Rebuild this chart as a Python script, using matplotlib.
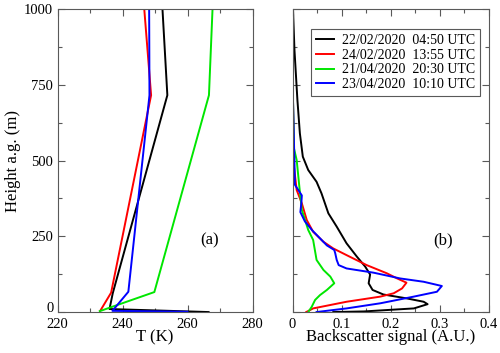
import matplotlib
matplotlib.use("Agg")
import matplotlib.pyplot as plt
from matplotlib.ticker import MultipleLocator

plt.rcParams['font.family'] = ['Liberation Serif', 'DejaVu Serif']

labels = ['22/02/2020  04:50 UTC', '24/02/2020  13:55 UTC',
          '21/04/2020  20:30 UTC', '23/04/2020  10:10 UTC']
colors = ['#000000', '#ff0000', '#00e600', '#0000ff']
height_ticks = [0, 250, 500, 750, 1000]

# (a) temperature profiles: height (m), T (K)
h_t_black = [0, 10, 62, 716, 1000]
t_black = [266.5, 236.0, 237.0, 253.8, 252.3]
h_t_red = [5, 64, 716, 1000]
t_red = [233.2, 236.5, 248.8, 246.7]
h_t_green = [3, 66, 716, 1000]
t_green = [233.0, 249.8, 266.6, 267.7]
h_t_blue = [1, 4, 67, 716, 1000]
t_blue = [260.0, 236.9, 241.8, 248.3, 248.2]

# (b) backscatter profiles: height (m), signal (A.U.)
h_b_black = [0, 2, 12, 26, 34, 45, 58, 73, 95, 124, 150, 183, 227, 282, 326,
             392, 430, 469, 513, 590, 700, 865, 1000]
b_black = [0.083, 0.145, 0.247, 0.275, 0.267, 0.233, 0.185, 0.163, 0.155, 0.158,
           0.148, 0.131, 0.110, 0.090, 0.073, 0.059, 0.049, 0.032, 0.021, 0.015,
           0.010, 0.004, 0.001]
h_b_red = [0, 12, 34, 51, 62, 78, 97, 111, 128, 155, 188, 210, 232, 265, 304,
           359, 403, 480, 700, 1000]
b_red = [0.028, 0.042, 0.110, 0.179, 0.206, 0.223, 0.232, 0.213, 0.192, 0.151,
         0.110, 0.083, 0.063, 0.042, 0.029, 0.019, 0.0085, 0.003, 0.001, 0.0]
h_b_green = [0, 17, 40, 56, 73, 95, 117, 139, 172, 238, 271, 337, 413, 502, 540,
             700, 1000]
b_green = [0.032, 0.039, 0.046, 0.056, 0.070, 0.085, 0.077, 0.063, 0.049, 0.042,
           0.032, 0.019, 0.014, 0.0085, 0.003, 0.001, 0.0]
h_b_blue = [0, 12, 29, 51, 67, 86, 100, 111, 130, 144, 155, 172, 194, 205, 220,
            245, 270, 300, 330, 360, 385, 400, 420, 700, 1000]
b_blue = [0.049, 0.110, 0.179, 0.247, 0.294, 0.304, 0.267, 0.219, 0.165, 0.110,
          0.094, 0.090, 0.087, 0.085, 0.070, 0.055, 0.040, 0.025, 0.016, 0.018,
          0.019, 0.013, 0.005, 0.001, 0.0]

fig = plt.figure(figsize=(5.0, 3.53), dpi=100)
ax1 = fig.add_axes([0.115, 0.116, 0.39, 0.858])
ax2 = fig.add_axes([0.585, 0.116, 0.393, 0.858])

lw = 1.4
for h, t, c in zip([h_t_black, h_t_red, h_t_green, h_t_blue],
                   [t_black, t_red, t_green, t_blue], colors):
    ax1.plot(t, h, color=c, lw=lw)
for h, b, c, lab in zip([h_b_black, h_b_red, h_b_green, h_b_blue],
                        [b_black, b_red, b_green, b_blue], colors, labels):
    ax2.plot(b, h, color=c, lw=lw, label=lab)

ax1.set_xlim(220, 280)
ax1.set_ylim(0, 1000)
ax1.xaxis.set_major_locator(MultipleLocator(20))
ax1.xaxis.set_minor_locator(MultipleLocator(10))
ax2.set_xlim(0, 0.4)
ax2.set_ylim(0, 1000)
ax2.xaxis.set_major_locator(MultipleLocator(0.1))
ax2.xaxis.set_minor_locator(MultipleLocator(0.05))
ax2.set_xticks([0, 0.1, 0.2, 0.3, 0.4], ['0', '0.1', '0.2', '0.3', '0.4'])
ax2.tick_params(labelleft=False)

for ax in (ax1, ax2):
    ax.set_yticks(height_ticks)
    ax.yaxis.set_minor_locator(MultipleLocator(125))
    ax.tick_params(which='both', direction='in', top=True, right=True,
                   color='0.35', labelsize=10.5)
    ax.tick_params(axis='x', pad=4)
    ax.tick_params(axis='y', pad=3)
    ax.tick_params(which='major', length=5, width=0.8)
    ax.tick_params(which='minor', length=3, width=0.8)
    for s in ax.spines.values():
        s.set_color('0.35')
        s.set_linewidth(0.8)

# sit the y "0" label on its tick so it clears the "220" below it
ax1.get_yticklabels()[0].set_verticalalignment('baseline')

ax1.set_xlabel('T (K)', fontsize=12, labelpad=-1)
ax1.set_ylabel('Height a.g. (m)', fontsize=12, labelpad=2)
ax2.set_xlabel('Backscatter signal (A.U.)', fontsize=12, labelpad=-1)
ax1.text(266.9, 238, '(a)', fontsize=12, ha='center', va='center')
ax2.text(0.306, 235, '(b)', fontsize=12, ha='center', va='center')

leg = ax2.legend(loc='upper right', fontsize=10, handlelength=1.3,
                 handletextpad=0.6, borderpad=0.35, labelspacing=0.12,
                 borderaxespad=0, fancybox=False, framealpha=1,
                 bbox_to_anchor=(0.954, 0.934))
leg.get_frame().set_edgecolor('0.35')
leg.get_frame().set_linewidth(0.8)

fig.savefig('out.png', dpi=100)
